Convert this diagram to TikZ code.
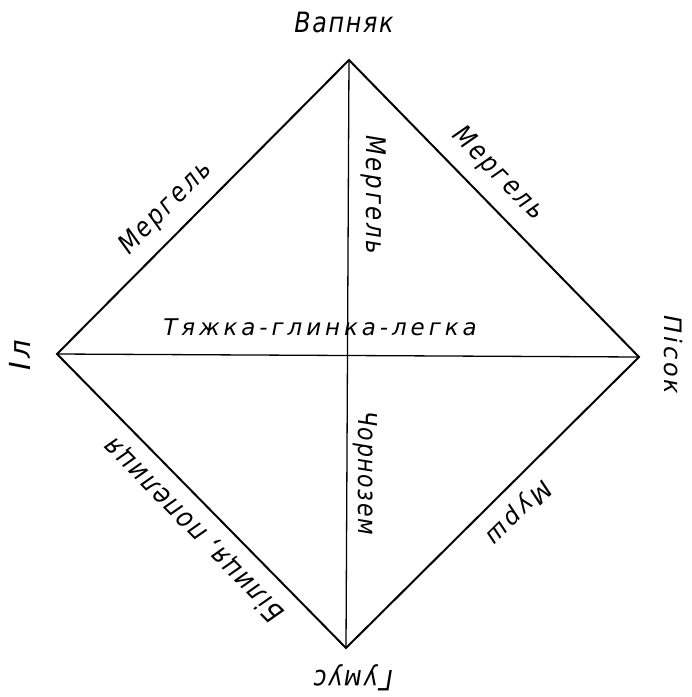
\documentclass[tikz,border=0pt]{standalone}
\usepackage{fontspec}
\setmainfont{DejaVu Sans}
\newfontfamily\handA[LetterSpace=6,FakeStretch=0.85]{DejaVu Sans}
\newfontfamily\handE[LetterSpace=10,FakeStretch=0.85]{DejaVu Sans}
\newfontfamily\handC[LetterSpace=12]{DejaVu Sans}
\newfontfamily\handB[LetterSpace=17]{DejaVu Sans}
\begin{document}
\begin{tikzpicture}[x=1pt,y=-1pt,
  edge/.style={line width=2pt, line join=miter},
  innerline/.style={line width=1.3pt},
  lbl/.style={inner sep=0pt, font=\handA\itshape\fontsize{28}{30}\selectfont},
  lbledge/.style={inner sep=0pt, font=\handE\itshape\fontsize{27}{30}\selectfont},
  lblsp/.style={inner sep=0pt, font=\handC\itshape\fontsize{24}{26}\selectfont},
  lblbig/.style={inner sep=0pt, font=\handC\itshape\fontsize{29}{30}\selectfont},
  lblsm/.style={inner sep=0pt, font=\handA\itshape\fontsize{26}{28}\selectfont},
  wide/.style={inner sep=0pt, font=\handB\itshape\fontsize{23}{26}\selectfont}]
\useasboundingbox (0,0) rectangle (692,697);
\coordinate (T) at (349,60);
\coordinate (L) at (57,354);
\coordinate (R) at (639,357);
\coordinate (B) at (346,648);
\draw[edge] (L) -- (T) -- (R) -- (B) -- cycle;
\draw[innerline] (T) -- (B);
\draw[innerline] (L) -- (R);
\node[lbl] (vap) at (344,22) {Вапняк};
\node[lblbig, rotate=90] (il) at (20,355) {Іл};
\node[lblsp, rotate=-90] (pis) at (673,355) {Пісок};
\node[lbl, rotate=180] (hum) at (353,678) {Гумус};
\node[lbledge, rotate=45.2] (m1) at (166,208) {Мергель};
\node[lbledge, rotate=-90] (m2) at (374,195) {Мергель};
\node[lbledge, rotate=-45.7] (m3) at (498,174) {Мергель};
\node[wide] (tg) at (320,327) {Тяжка-глинка-легка};
\node[lblsm, rotate=-90] (ch) at (365,473) {Чорнозем};
\node[lblsp, rotate=-135.2] (mur) at (518,512) {Мурш};
\node[lbl, rotate=134.5] (bil) at (194,530) {Білиця, попелиця};
\end{tikzpicture}
\end{document}
